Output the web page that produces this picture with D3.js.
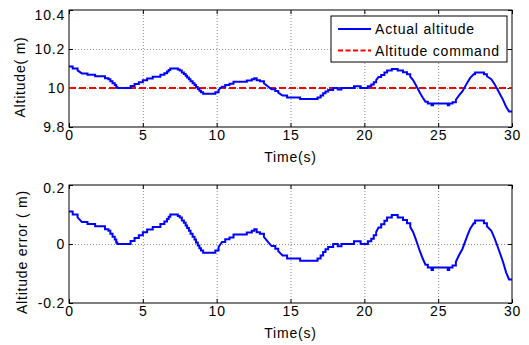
<!DOCTYPE html>
<html>
<head>
<meta charset="utf-8">
<script src="https://cdn.jsdelivr.net/npm/d3@7"></script>
<style>
  body { margin: 0; background: #fff; }
  svg text { font-family: "Liberation Sans", Arial, Helvetica, sans-serif; font-size: 14px; letter-spacing: 0.8px; fill: #000; }
  .grid line { stroke: #8c8c8c; stroke-dasharray: 1,2; }
  .grid path { display: none; }
  .ticks path { display: none; }
  .ticks line { stroke: #000; }
</style>
</head>
<body>
<div class="chart"></div>
<script>
// time (s) where each sample starts and the altitude error (m) held from it
var time = [0, 0.25, 0.58, 0.87, 1.25, 1.77, 2.44, 2.67, 2.8, 2.95, 3.1, 3.2, 3.27,
    4.17, 4.44, 4.73, 5.0, 5.29, 5.67, 6.19, 6.46, 6.64, 6.75, 6.86, 7.37, 7.5, 7.64,
    7.78, 7.9, 8.0, 8.12, 8.23, 8.37, 8.5, 8.6, 8.72, 8.83, 8.94, 9.08, 9.91, 10.13,
    10.36, 10.58, 10.87, 11.14, 12.04, 12.38, 12.55, 12.71, 12.93, 13.2, 13.43, 13.72,
    13.97, 14.17, 14.46, 14.77, 15.65, 16.83, 17.04, 17.21, 17.37, 17.55, 17.89, 18.2,
    18.45, 19.3, 19.75, 20.24, 20.47, 20.64, 20.8, 20.96, 21.14, 21.36, 21.54, 21.86,
    22.26, 22.62, 22.89, 23.11, 23.3, 23.47, 23.63, 23.78, 23.96, 24.14, 24.3, 24.55,
    24.65, 25.65, 25.75, 25.97, 26.2, 26.4, 26.65, 26.82, 26.99, 27.17, 27.4, 27.5,
    28.1, 28.3, 28.6, 28.8, 29.0, 29.2, 29.4, 29.6, 29.8, 30];
var altError = [0.11, 0.10, 0.09, 0.075, 0.068, 0.06, 0.05, 0.045, 0.035, 0.025, 0.015, 0.005, 0,
    0.01, 0.02, 0.03, 0.04, 0.049, 0.058, 0.068, 0.076, 0.085, 0.092, 0.10, 0.095, 0.09, 0.08,
    0.072, 0.063, 0.054, 0.045, 0.035, 0.025, 0.015, 0.005, -0.005, -0.014, -0.022, -0.03, -0.022, -0.01,
    0.007, 0.016, 0.022, 0.032, 0.039, 0.045, 0.05, 0.04, 0.035, 0.024, 0.01, -0.007,
    -0.016, -0.024, -0.039, -0.049, -0.057, -0.049, -0.039, -0.027, -0.018, -0.01, 0, -0.008,
    0, 0.009, 0, 0.009, 0.018, 0.03, 0.041, 0.056, 0.067, 0.079, 0.09, 0.098,
    0.09, 0.081, 0.07, 0.058, 0.041, 0.018, -0.005, -0.027, -0.05, -0.07, -0.08, -0.088,
    -0.08, -0.088, -0.08, -0.073, -0.06, -0.039, -0.016, 0.007, 0.03, 0.052, 0.07, 0.08,
    0.07, 0.06, 0.045, 0.022, -0.005, -0.033, -0.062, -0.096, -0.12, -0.12];
var command = 10;

var xTicks = [0, 5, 10, 15, 20, 25, 30];
var topTicks = [9.8, 10, 10.2, 10.4];
var botTicks = [-0.2, 0, 0.2];
var legendLabels = ["Actual altitude", "Altitude command"];

var svgWidth = 529;
var svgHeight = 345;

var svg = d3.select(".chart")
    .append("svg")
    .attr("width", svgWidth)
    .attr("height", svgHeight);

var xScale = d3.scaleLinear().domain([0, 30]).range([69, 512]);
var yTop = d3.scaleLinear().domain([9.8, 10.4]).range([127, 10]);
var yBot = d3.scaleLinear().domain([-0.2, 0.2]).range([303, 185]);

var altitude = altError.map(d => command + d);

// small changes are drawn as stairs, big jumps as straight slopes
function stairs(vals) {
    var pts = [];
    for (var i = 0; i < time.length; i++) {
        pts.push({t: time[i], v: vals[i]});
        if (i < time.length - 1 && Math.abs(vals[i + 1] - vals[i]) < 0.013) {
            pts.push({t: time[i + 1], v: vals[i]});
        }
    }
    return pts;
}
var topData = stairs(altitude);
var botData = stairs(altError);

function drawPanel(y, yTicks, topShift) {
    var x0 = xScale.range()[0], x1 = xScale.range()[1];
    var yb = y.range()[0], yt = y.range()[1];
    var g = svg.append("g");

    // grid
    g.append("g").attr("class", "grid")
        .attr("transform", `translate(0, ${yb})`)
        .call(d3.axisBottom(xScale).tickValues(xTicks.slice(1, -1)).tickSize(-(yb - yt)).tickFormat(""));
    g.append("g").attr("class", "grid")
        .attr("transform", `translate(${x0}, 0)`)
        .call(d3.axisLeft(y).tickValues(yTicks.slice(1, -1)).tickSize(-(x1 - x0)).tickFormat(""));

    // inward ticks on all four sides
    var bottom = g.append("g").attr("class", "ticks")
        .attr("transform", `translate(0, ${yb})`)
        .call(d3.axisBottom(xScale).tickValues(xTicks).tickSizeInner(-4).tickSizeOuter(0).tickPadding(1)
            .tickFormat(d => String(d)));
    bottom.selectAll("text").attr("dy", "0.85em").style("font-size", "14px").style("font-family", null);
    g.append("g").attr("class", "ticks")
        .attr("transform", `translate(0, ${yt})`)
        .call(d3.axisTop(xScale).tickValues(xTicks).tickSizeInner(-4).tickSizeOuter(0).tickFormat(""));
    var left = g.append("g").attr("class", "ticks")
        .attr("transform", `translate(${x0}, 0)`)
        .call(d3.axisLeft(y).tickValues(yTicks).tickSizeInner(-4).tickSizeOuter(0).tickPadding(4)
            .tickFormat(d => String(d)));
    left.selectAll("text").style("font-size", "14px").style("font-family", null)
        .attr("dy", d => d === yTicks[yTicks.length - 1] ? topShift : "0.35em");
    g.append("g").attr("class", "ticks")
        .attr("transform", `translate(${x1}, 0)`)
        .call(d3.axisRight(y).tickValues(yTicks).tickSizeInner(-4).tickSizeOuter(0).tickFormat(""));

    // box
    g.append("rect")
        .attr("x", x0).attr("y", yt)
        .attr("width", x1 - x0).attr("height", yb - yt)
        .attr("fill", "none").attr("stroke", "#000");

    // x label
    g.append("text")
        .attr("x", (x0 + x1) / 2)
        .attr("y", yb + 35)
        .attr("text-anchor", "middle")
        .text("Time(s)");
    return g;
}

var topG = drawPanel(yTop, topTicks, "0.7em");
var botG = drawPanel(yBot, botTicks, "0.55em");

var line = function(y) {
    return d3.line()
        .x(d => xScale(d.t))
        .y(d => y(d.v));
};

// command line
topG.append("line")
    .attr("x1", xScale(0)).attr("x2", xScale(30))
    .attr("y1", yTop(command)).attr("y2", yTop(command))
    .attr("stroke", "#ff0000").attr("stroke-width", 2)
    .attr("stroke-dasharray", "7,3");

topG.append("path")
    .datum(topData)
    .attr("fill", "none")
    .attr("stroke", "#0000ff")
    .attr("stroke-width", 2)
    .attr("d", line(yTop));

botG.append("path")
    .datum(botData)
    .attr("fill", "none")
    .attr("stroke", "#0000ff")
    .attr("stroke-width", 2)
    .attr("d", line(yBot));

// y labels
svg.append("text")
    .attr("transform", "translate(25, 77) rotate(-90)")
    .attr("text-anchor", "middle")
    .text("Altitude( m)");
svg.append("text")
    .attr("transform", "translate(27, 252) rotate(-90)")
    .attr("text-anchor", "middle")
    .text("Altitude error ( m)");

// legend
var legend = svg.append("g");
legend.append("rect")
    .attr("x", 331).attr("y", 16)
    .attr("width", 176).attr("height", 46)
    .attr("fill", "#fff").attr("stroke", "#000");
var legendRows = legend.selectAll("g.row")
    .data(legendLabels)
    .enter()
    .append("g")
    .attr("class", "row")
    .attr("transform", (d, i) => `translate(0, ${29 + i * 21.5})`);
legendRows.append("line")
    .attr("x1", 338).attr("x2", 371)
    .attr("stroke", (d, i) => i === 0 ? "#0000ff" : "#ff0000")
    .attr("stroke-width", 2)
    .attr("stroke-dasharray", (d, i) => i === 0 ? null : "5,2.5");
legendRows.append("text")
    .attr("x", 375)
    .attr("dy", "0.36em")
    .text(d => d);
</script>
</body>
</html>
